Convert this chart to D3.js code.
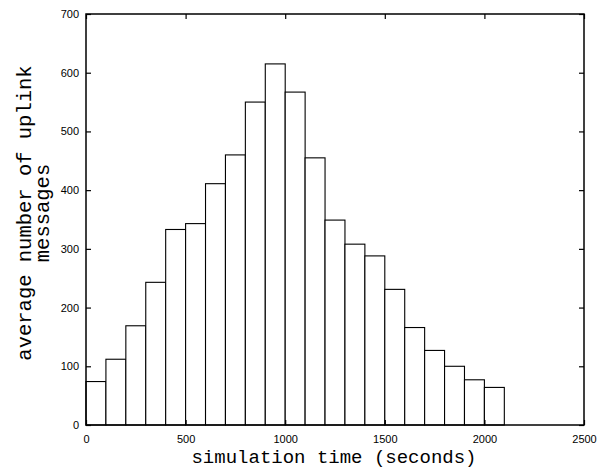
<html>
<head>
    <title>Uplink messages</title>
    <style>
        body { margin: 0; background: #fff; }
        #chart { width: 597px; height: 476px; }
        .tick text { font-family: "Liberation Sans", Arial, sans-serif; font-size: 11px; fill: #000; }
        .tick line { stroke: #000; stroke-width: 1.2; }
        .title { font-family: "Liberation Mono", "Courier New", monospace; fill: #000; }
    </style>
</head>
<body>
<div id="chart"></div>
<script src="https://d3js.org/d3.v7.min.js"></script>
<script>

  // histogram bins (start of each 100 s bin) and average counts
  const binStarts = [0, 100, 200, 300, 400, 500, 600, 700, 800, 900, 1000,
    1100, 1200, 1300, 1400, 1500, 1600, 1700, 1800, 1900, 2000]
  const counts = [74, 112, 169, 243, 333, 343, 411, 460, 550, 615, 567,
    455, 349, 308, 288, 231, 166, 127, 100, 77, 64]
  const binWidth = 100
  const xTicks = [0, 500, 1000, 1500, 2000, 2500]
  const yTicks = [0, 100, 200, 300, 400, 500, 600, 700]

  const width = 597
  const height = 476
  const plotLeft = 86, plotRight = 584, plotTop = 14, plotBottom = 425

  const svg = d3.select('#chart')
    .append('svg')
    .attr('width', width)
    .attr('height', height)

  const x = d3.scaleLinear().domain([0, 2500]).range([plotLeft, plotRight])
  const y = d3.scaleLinear().domain([0, 700]).range([plotBottom, plotTop])
  const fmt = d3.format('d')

  // bars
  svg.append('g')
    .selectAll('rect')
    .data(binStarts)
    .join('rect')
    .attr('x', (d) => x(d))
    .attr('y', (d, i) => y(counts[i]))
    .attr('width', (d) => x(d + binWidth) - x(d))
    .attr('height', (d, i) => y(0) - y(counts[i]))
    .attr('fill', '#fff')
    .attr('stroke', '#000')
    .attr('stroke-width', 1.1)

  // axes, ticks point inward like gnuplot
  svg.append('g')
    .attr('transform', `translate(0, ${plotBottom})`)
    .call(d3.axisBottom(x).tickValues(xTicks).tickFormat(fmt).tickSizeInner(-5).tickSizeOuter(0).tickPadding(10))
  svg.append('g')
    .attr('transform', `translate(${plotLeft}, 0)`)
    .call(d3.axisLeft(y).tickValues(yTicks).tickFormat(fmt).tickSizeInner(-5).tickSizeOuter(0).tickPadding(7))
  svg.append('g')
    .attr('transform', `translate(0, ${plotTop})`)
    .call(d3.axisTop(x).tickValues(xTicks).tickSizeInner(-5).tickSizeOuter(0).tickFormat(''))
  svg.append('g')
    .attr('transform', `translate(${plotRight}, 0)`)
    .call(d3.axisRight(y).tickValues(yTicks).tickSizeInner(-5).tickSizeOuter(0).tickFormat(''))
  svg.selectAll('.domain').remove()

  // frame
  svg.append('rect')
    .attr('x', plotLeft).attr('y', plotTop)
    .attr('width', plotRight - plotLeft).attr('height', plotBottom - plotTop)
    .attr('fill', 'none')
    .attr('stroke', '#000')
    .attr('stroke-width', 1.5)

  // axis titles
  svg.append('text')
    .attr('class', 'title')
    .attr('x', 334)
    .attr('y', 463)
    .attr('text-anchor', 'middle')
    .style('font-size', '19px')
    .text('simulation time (seconds)')

  const yTitle = svg.append('text')
    .attr('class', 'title')
    .attr('transform', 'translate(31, 213) rotate(-90)')
    .attr('text-anchor', 'middle')
    .style('font-size', '20.5px')
  yTitle.append('tspan').attr('x', 0).attr('y', 0).text('average number of uplink')
  yTitle.append('tspan').attr('x', 0).attr('y', 18).text('messages')

</script>
</body>
</html>
